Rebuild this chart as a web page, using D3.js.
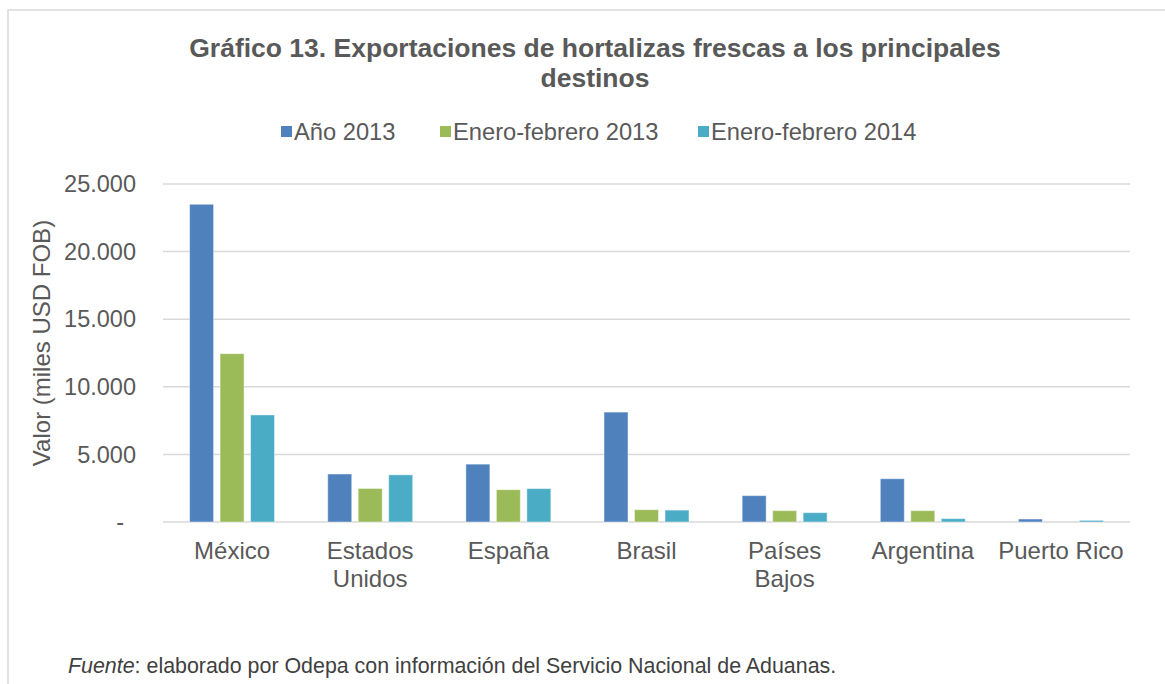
<!DOCTYPE html>
<html>
<head>
<meta charset="utf-8">
<script src="https://cdn.jsdelivr.net/npm/d3@7"></script>
<style>
  body { margin: 0; background: #fff; }
  svg { font-family: "Liberation Sans", Arial, sans-serif; }
</style>
</head>
<body>
<svg width="1165" height="684"></svg>
<script>
// Datos
const destinos = ["México", "Estados Unidos", "España", "Brasil", "Países Bajos", "Argentina", "Puerto Rico"];
const etiquetas = [["México"], ["Estados", "Unidos"], ["España"], ["Brasil"], ["Países", "Bajos"], ["Argentina"], ["Puerto Rico"]];
const series = ["Año 2013", "Enero-febrero 2013", "Enero-febrero 2014"];
const ano2013 = [23500, 3550, 4280, 8130, 1950, 3200, 220];
const eneFeb2013 = [12450, 2480, 2390, 910, 840, 840, 0];
const eneFeb2014 = [7920, 3490, 2470, 880, 690, 250, 120];
const yTicks = [0, 5000, 10000, 15000, 20000, 25000];

const colores = ["#4F81BD", "#9BBB59", "#4BACC6"];
const valores = [ano2013, eneFeb2013, eneFeb2014];

const svg = d3.select("svg");
const plot = { left: 163, right: 1130, top: 184, bottom: 522 };

// marco del gráfico
svg.append("path")
    .attr("d", `M8,684 L8,10 L1165,10`)
    .attr("fill", "none")
    .attr("stroke", "#d9d9d9")
    .attr("stroke-width", 1.5);

const x0 = d3.scaleBand()
    .domain(destinos)
    .range([plot.left, plot.right])
    .paddingInner(0.385)
    .paddingOuter(0.1925);

const x1 = d3.scaleBand()
    .domain(series)
    .range([0, x0.bandwidth()])
    .paddingInner(0.213);

const y = d3.scaleLinear()
    .domain([0, 25000])
    .range([plot.bottom, plot.top]);

// Líneas de cuadrícula
svg.append("g")
    .selectAll("line")
    .data(yTicks)
    .join("line")
    .attr("x1", plot.left)
    .attr("x2", plot.right)
    .attr("y1", d => y(d))
    .attr("y2", d => y(d))
    .attr("stroke", "#d9d9d9")
    .attr("stroke-width", 1.5);

// Etiquetas eje Y
svg.append("g")
    .selectAll("text")
    .data(yTicks)
    .join("text")
    .attr("x", d => d === 0 ? 124 : 136)
    .attr("y", d => y(d))
    .attr("dy", "0.35em")
    .attr("text-anchor", "end")
    .attr("font-size", 23.5)
    .attr("fill", "#595959")
    .text(d => d === 0 ? "-" : d3.format(",")(d).replace(/,/g, "."));

// Barras
const grupos = svg.append("g")
    .selectAll("g")
    .data(destinos)
    .join("g")
    .attr("transform", d => `translate(${x0(d)},0)`);

grupos.selectAll("rect")
    .data((d, i) => series.map((s, j) => ({ serie: s, valor: valores[j][i], color: colores[j] })))
    .join("rect")
    .attr("x", d => x1(d.serie))
    .attr("width", x1.bandwidth())
    .attr("y", d => y(d.valor))
    .attr("height", d => y(0) - y(d.valor))
    .attr("fill", d => d.color)
    .attr("stroke", "rgba(255,255,255,0.45)")
    .attr("stroke-width", 1);

// Etiquetas eje X
const xl = svg.append("g")
    .selectAll("text")
    .data(destinos)
    .join("text")
    .attr("x", d => x0(d) + x0.bandwidth() / 2)
    .attr("y", 559)
    .attr("text-anchor", "middle")
    .attr("font-size", 24)
    .attr("fill", "#595959");

xl.selectAll("tspan")
    .data((d, i) => etiquetas[i])
    .join("tspan")
    .attr("x", function() { return d3.select(this.parentNode).attr("x"); })
    .attr("dy", (d, i) => i === 0 ? 0 : 28)
    .text(d => d);

// Título eje Y
svg.append("text")
    .attr("transform", "translate(50,343) rotate(-90)")
    .attr("text-anchor", "middle")
    .attr("font-size", 24)
    .attr("fill", "#595959")
    .text("Valor (miles USD FOB)");

// Título
const titulo = svg.append("text")
    .attr("text-anchor", "middle")
    .attr("font-size", 26.5)
    .attr("font-weight", "bold")
    .attr("fill", "#595959");
titulo.append("tspan").attr("x", 595).attr("y", 57).text("Gráfico 13. Exportaciones de hortalizas frescas a los principales");
titulo.append("tspan").attr("x", 595).attr("y", 87).text("destinos");

// Leyenda
const legendX = [281, 440, 698];
const leyenda = svg.append("g")
    .selectAll("g")
    .data(series)
    .join("g")
    .attr("transform", (d, i) => `translate(${legendX[i]},126)`);

leyenda.append("rect")
    .attr("width", 11)
    .attr("height", 11)
    .attr("fill", (d, i) => colores[i]);

leyenda.append("text")
    .attr("x", 13)
    .attr("y", 6)
    .attr("dy", "0.35em")
    .attr("font-size", 23.7)
    .attr("fill", "#595959")
    .text(d => d);

// Fuente
const fuente = svg.append("text")
    .attr("x", 68)
    .attr("y", 673)
    .attr("font-size", 21.4)
    .attr("fill", "#404040");
fuente.append("tspan").attr("font-style", "italic").text("Fuente");
fuente.append("tspan").text(": elaborado por Odepa con información del Servicio Nacional de Aduanas.");
</script>
</body>
</html>
